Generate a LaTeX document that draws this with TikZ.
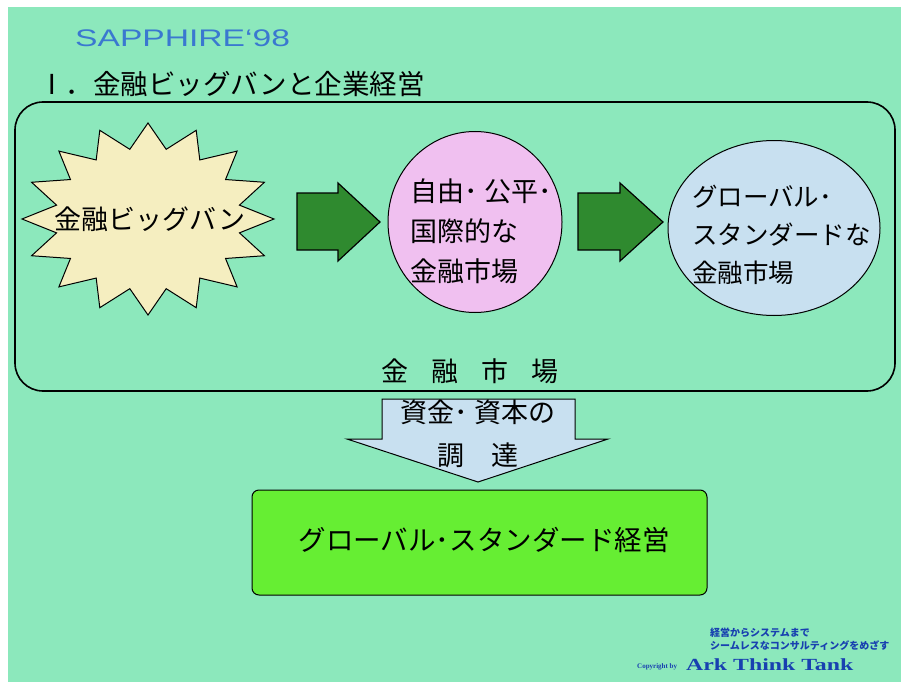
\documentclass[tikz,border=0pt]{standalone}
\usepackage{fontspec}
\usepackage{graphicx}
\usetikzlibrary{shapes.geometric}
\setmainfont{Noto Sans CJK JP}
\newfontfamily\latinsans{Liberation Sans}
\newfontfamily\latinserif{Liberation Serif}
\definecolor{bgg}{HTML}{8CE8BC}
\definecolor{starc}{HTML}{F5EEC0}
\definecolor{darkarrow}{HTML}{2F8A2F}
\definecolor{pinkc}{HTML}{F0C0F0}
\definecolor{bluec}{HTML}{C8E0F0}
\definecolor{limec}{HTML}{66EE33}
\definecolor{titleblue}{HTML}{3A78D0}
\definecolor{credblue}{HTML}{1840B0}
\begin{document}
\begin{tikzpicture}[x=1pt,y=-1pt,
  shapeline/.style={draw=black,line width=1.2pt},
  jtext/.style={font=\fontsize{27}{40}\selectfont,inner sep=0pt,align=left},
  blockarrow/.style={shapeline,fill=darkarrow}]
\useasboundingbox (0,0) rectangle (904,682);
\fill[white] (0,0) rectangle (904,682);
\fill[bgg] (8,7) rectangle (901,682);
% titles
\node[anchor=west,inner sep=0pt,text=titleblue,font=\latinsans\fontsize{24}{26}\selectfont] (sapphire) at (75,38) {\scalebox{1.4}[1]{SAPPHIRE‘98}};
\node[anchor=west,inner sep=0pt,font=\fontsize{27.5}{30}\selectfont] (title) at (38,84) {Ⅰ．金融ビッグバンと企業経営};
% big frame
\draw[line width=1.6pt,rounded corners=28pt] (15,102) rectangle (895,391);
\node[inner sep=0pt,font=\fontsize{27}{30}\selectfont] (market) at (470,371) {金\hspace{0.85em}融\hspace{0.85em}市\hspace{0.85em}場};
% starburst
\draw[shapeline,line width=1pt,fill=starc] plot[samples at={0,...,31},variable=\k]
  ({148+126*(1-0.26*mod(\k,2))*cos(90+\k*11.25)},{219-96*(1-0.26*mod(\k,2))*sin(90+\k*11.25)}) -- cycle;
\node[jtext] (bang) at (150,219) {金融ビッグバン};
% arrows
\draw[blockarrow] (297,193) -- (338,193) -- (338,183) -- (380,222) -- (338,261) -- (338,250) -- (297,250) -- cycle;
\draw[blockarrow] (578,193) -- (620,193) -- (620,183) -- (663,222) -- (620,261) -- (620,250) -- (578,250) -- cycle;
% ellipses
\node[shapeline,line width=1pt,fill=pinkc,ellipse,minimum width=174pt,minimum height=181pt,inner sep=0pt] (free) at (475,222) {};
\node[jtext,anchor=west] (freetxt) at (410,231) {自由･\hspace{0.25em}公平･\\国際的な\\金融市場};
\node[shapeline,line width=1pt,fill=bluec,ellipse,minimum width=212pt,minimum height=175pt,inner sep=0pt] (global) at (774,228) {};
\node[jtext,anchor=west,font=\fontsize{25.5}{38}\selectfont] (globaltxt) at (692,235) {グローバル･\\スタンダードな\\金融市場};
% down arrow
\draw[shapeline,line width=1pt,fill=bluec] (382,399) -- (575,399) -- (575,439) -- (608,439) -- (478,482) -- (347,439) -- (382,439) -- cycle;
\node[jtext,align=center,font=\fontsize{27}{43}\selectfont] (fund) at (478,434) {資金･\hspace{0.25em}資本の\\調\hspace{1em}達};
% bottom box
\node[shapeline,line width=1pt,fill=limec,rounded corners=7pt,minimum width=455pt,minimum height=105pt,inner sep=0pt] (mgmt) at (479.5,542.5) {};
\node[inner sep=0pt,font=\fontsize{27.5}{30}\selectfont] (mgmttxt) at (484,540) {グローバル･スタンダード経営};
% credits
\node[anchor=west,inner sep=0pt,text=credblue,font=\bfseries\fontsize{10}{13}\selectfont,align=left] (slogan) at (710,639) {経営からシステムまで\\シームレスなコンサルティングをめざす};
\node[anchor=west,inner sep=0pt,text=credblue,font=\latinserif\bfseries\fontsize{7}{8}\selectfont] (copy) at (637,667) {Copyright by};
\node[anchor=west,inner sep=0pt,text=credblue,font=\latinserif\bfseries\fontsize{17}{19}\selectfont] (ark) at (686,665) {\scalebox{1.4}[1]{Ark Think Tank}};
\end{tikzpicture}
\end{document}
